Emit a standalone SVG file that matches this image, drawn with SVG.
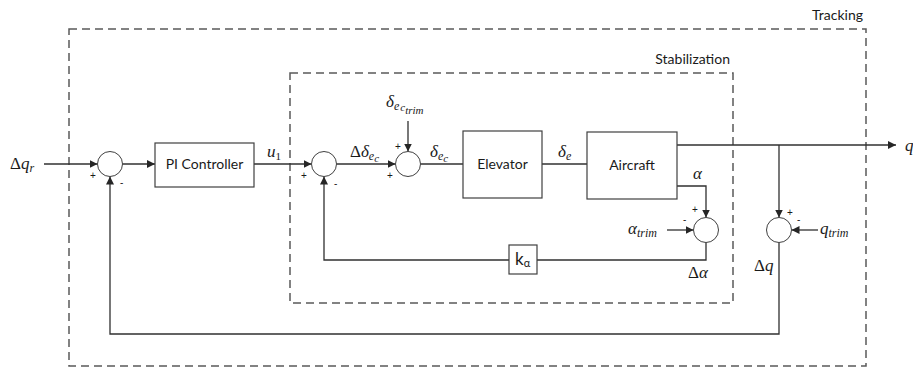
<svg xmlns="http://www.w3.org/2000/svg" width="913" height="367" viewBox="0 0 913 367">
<defs>
<marker id="arr" viewBox="0 0 10 10" refX="10" refY="5" markerWidth="8" markerHeight="8" markerUnits="userSpaceOnUse" orient="auto">
<path d="M0,0 L10,5 L0,10 Z" fill="#262626"/>
</marker>
<style>
.frame{fill:none;stroke:#595959;stroke-width:1.5;stroke-dasharray:8 5}
.blk{fill:#fff;stroke:#404040;stroke-width:1.2}
.sum{fill:#fff;stroke:#404040;stroke-width:1}
.ln{fill:none;stroke:#303030;stroke-width:1.3}
.ar{marker-end:url(#arr)}
.lbl{font-family:Lato,"Liberation Sans",sans-serif;font-size:14px;fill:#1a1a1a}
.sg{font-family:"Liberation Sans",sans-serif;font-size:10px;fill:#1a1a1a}
.m{font-family:"Liberation Serif","DejaVu Serif",serif;font-size:17px;fill:#1a1a1a}
.i{font-style:italic}
</style>
</defs>

<g id="tracking">
<rect class="frame" x="69" y="29" width="797" height="337"/>
<text class="lbl" x="863" y="20" text-anchor="end">Tracking</text>
</g>
<g id="stabilization">
<rect class="frame" x="290" y="73" width="443" height="230"/>
<text class="lbl" x="730" y="64" text-anchor="end">Stabilization</text>
</g>

<g id="connectors">
<path class="ln ar" d="M44,164 H97.5"/>
<path class="ln ar" d="M122.5,164 H155"/>
<path class="ln ar" d="M254,164 H311.5"/>
<path class="ln ar" d="M336.5,164 H395.5"/>
<path class="ln" d="M420.5,164 H463"/>
<path class="ln" d="M542,164 H587"/>
<path class="ln ar" d="M408,121 V151.5"/>
<path class="ln ar" d="M677,145 H896"/>
<path class="ln ar" d="M677,186 H706 V217.5"/>
<path class="ln ar" d="M667,230 H693.5"/>
<path class="ln" d="M706,242.5 V260 H537"/>
<path class="ln ar" d="M509,260 H324 V176.5"/>
<path class="ln ar" d="M779,145 V217.5"/>
<path class="ln ar" d="M818,230 H791.5"/>
<path class="ln ar" d="M779,242.5 V334 H110 V176.5"/>
</g>

<g id="sum1">
<circle class="sum" cx="110" cy="164" r="12.5"/>
<text class="sg" x="90" y="179">+</text>
<text class="sg" x="120" y="186">-</text>
</g>
<g id="pi-controller">
<rect class="blk" x="155" y="143" width="99" height="44"/>
<text class="lbl" x="204.5" y="169" text-anchor="middle">PI Controller</text>
</g>
<g id="sum2">
<circle class="sum" cx="324" cy="164" r="12.5"/>
<text class="sg" x="301" y="179">+</text>
<text class="sg" x="334" y="187">-</text>
</g>
<g id="sum3">
<circle class="sum" cx="408" cy="164" r="12.5"/>
<text class="sg" x="395" y="150">+</text>
<text class="sg" x="387" y="179">+</text>
</g>
<g id="elevator">
<rect class="blk" x="463" y="131" width="79" height="67"/>
<text class="lbl" x="502.5" y="169" text-anchor="middle">Elevator</text>
</g>
<g id="aircraft">
<rect class="blk" x="587" y="132" width="90" height="67"/>
<text class="lbl" x="632" y="170" text-anchor="middle">Aircraft</text>
</g>
<g id="sum4">
<circle class="sum" cx="706" cy="230" r="12.5"/>
<text class="sg" x="692" y="213">+</text>
<text class="sg" x="683" y="223">-</text>
</g>
<g id="sum5">
<circle class="sum" cx="779" cy="230" r="12.5"/>
<text class="sg" x="787" y="216">+</text>
<text class="sg" x="797" y="223">-</text>
</g>
<g id="k-alpha">
<rect class="blk" x="509" y="245" width="28" height="29"/>
<text class="lbl" x="515" y="265" style="font-size:17px">k<tspan style="font-size:11px" dy="2">α</tspan></text>
</g>

<g id="labels">
<text class="m" x="10" y="169">Δ<tspan class="i">q</tspan><tspan class="i" style="font-size:12px" dy="3">r</tspan></text>
<text class="m i" x="267" y="157">u<tspan style="font-size:11px;font-style:normal" dy="3">1</tspan></text>
<text class="m" x="350" y="157">Δ<tspan class="i">δ</tspan><tspan class="i" style="font-size:12px" dy="3">e</tspan><tspan class="i" style="font-size:11px" dy="2">c</tspan></text>
<text class="m i" x="386" y="107">δ<tspan style="font-size:12px" dy="3">e</tspan><tspan style="font-size:11px" dx="1" dy="1">c</tspan><tspan style="font-size:11px" dy="3">trim</tspan></text>
<text class="m i" x="430" y="157">δ<tspan style="font-size:12px" dy="3">e</tspan><tspan style="font-size:11px" dy="2">c</tspan></text>
<text class="m i" x="558" y="157">δ<tspan style="font-size:12px" dy="3">e</tspan></text>
<text class="m i" x="693" y="179">α</text>
<text class="m i" x="628" y="234">α<tspan style="font-size:12px" dy="3">trim</tspan></text>
<text class="m i" x="820" y="234">q<tspan style="font-size:12px" dy="3">trim</tspan></text>
<text class="m" x="688" y="278">Δ<tspan class="i">α</tspan></text>
<text class="m" x="754" y="271">Δ<tspan class="i">q</tspan></text>
<text class="m i" x="905" y="151">q</text>
</g>
</svg>
